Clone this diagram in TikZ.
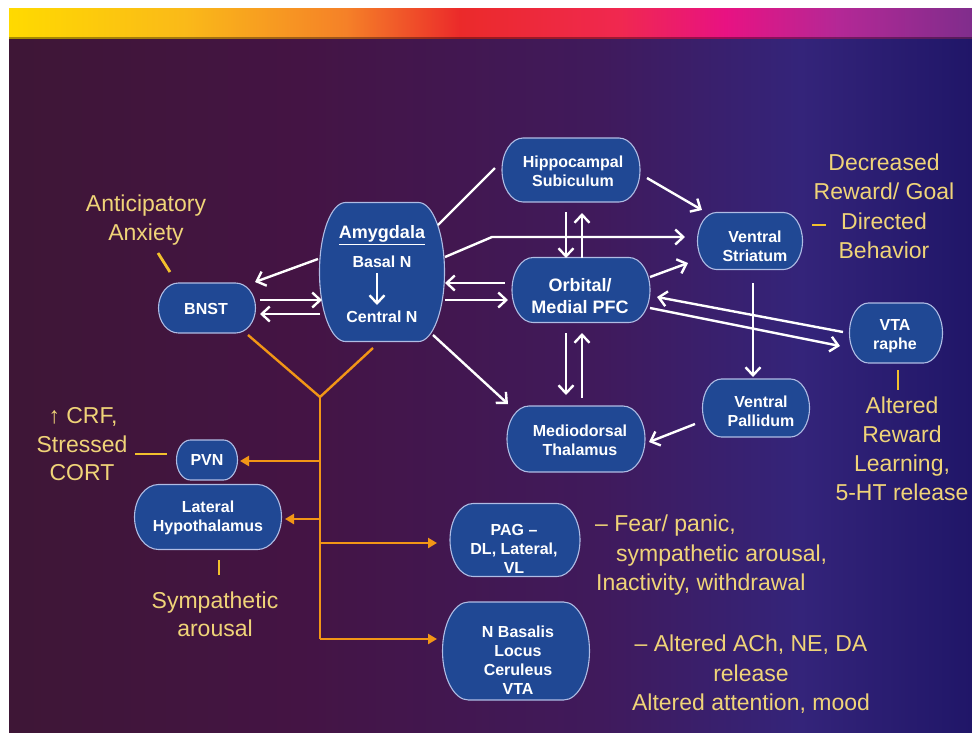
\documentclass[tikz,border=0pt]{standalone}
\usepackage{fontspec}
\setmainfont{Liberation Sans}
\usetikzlibrary{arrows.meta,calc}
\definecolor{nodefill}{RGB}{32,72,148}
\definecolor{nodeborder}{RGB}{175,188,228}
\definecolor{ylw}{RGB}{240,212,120}
\definecolor{dashcol}{RGB}{242,192,45}
\definecolor{orng}{RGB}{242,150,22}
\definecolor{bga}{RGB}{62,22,54}
\definecolor{bgb}{RGB}{68,20,68}
\definecolor{bgc}{RGB}{64,26,92}
\definecolor{bgd}{RGB}{52,36,122}
\definecolor{bge}{RGB}{32,22,104}
\definecolor{bara}{RGB}{255,218,0}
\definecolor{barb}{RGB}{250,185,25}
\definecolor{barc}{RGB}{245,128,40}
\definecolor{bard}{RGB}{235,42,42}
\definecolor{bare}{RGB}{240,40,80}
\definecolor{barf}{RGB}{232,18,130}
\definecolor{barg}{RGB}{180,40,150}
\definecolor{barh}{RGB}{128,45,140}
% outline of a box with elliptical ends: #1 node, #2 half width, #3 half height, #4 end depth
\newcommand{\pillbox}[4]{%
  \draw[boxpaint] ($(#1)+(-#2+#4,-#3)$) -- ($(#1)+(#2-#4,-#3)$)
    .. controls ($(#1)+(#2-0.448*#4,-#3)$) and ($(#1)+(#2,-0.552*#3)$) .. ($(#1)+(#2,0)$)
    .. controls ($(#1)+(#2,0.552*#3)$) and ($(#1)+(#2-0.448*#4,#3)$) .. ($(#1)+(#2-#4,#3)$)
    -- ($(#1)+(-#2+#4,#3)$)
    .. controls ($(#1)+(-#2+0.448*#4,#3)$) and ($(#1)+(-#2,0.552*#3)$) .. ($(#1)+(-#2,0)$)
    .. controls ($(#1)+(-#2,-0.552*#3)$) and ($(#1)+(-#2+0.448*#4,-#3)$) .. cycle;}
\begin{document}
\begin{tikzpicture}[x=1pt,y=-1pt,
  box/.style={inner sep=0pt},
  boxpaint/.style={draw=nodeborder,line width=1.1pt,fill=nodefill},
  btxt/.style={text=white,font=\bfseries\fontsize{16}{19}\selectfont,align=center,inner sep=0pt},
  ylab/.style={text=ylw,font=\fontsize{23}{29}\selectfont,inner sep=0pt,anchor=base},
  warr/.style={draw=white,line width=2.4pt,-{Straight Barb[length=8pt,width=15pt]}},
  wline/.style={draw=white,line width=2.4pt},
  oarr/.style={draw=orng,line width=2.4pt,-{Triangle[length=9pt,width=10pt]}},
  oline/.style={draw=orng,line width=2.4pt,line join=miter},
  ydash/.style={draw=dashcol,line width=2.8pt}]
\useasboundingbox (0,0) rectangle (972,732);
\fill[white] (0,0) rectangle (972,732);
% background
\shade[left color=bga,right color=bgb] (9,8) rectangle (301,732);
\shade[left color=bgb,right color=bgc] (300,8) rectangle (601,732);
\shade[left color=bgc,right color=bgd] (600,8) rectangle (801,732);
\shade[left color=bgd,right color=bge] (800,8) rectangle (972,732);
% top bar
\shade[left color=bara,right color=barb] (9,8) rectangle (187,38);
\shade[left color=barb,right color=barc] (186,8) rectangle (348,38);
\shade[left color=barc,right color=bard] (347,8) rectangle (460,38);
\shade[left color=bard,right color=bare] (459,8) rectangle (621,38);
\shade[left color=bare,right color=barf] (620,8) rectangle (726,38);
\shade[left color=barf,right color=barg] (725,8) rectangle (838,38);
\shade[left color=barg,right color=barh] (837,8) rectangle (972,38);
\fill[black,opacity=0.35] (9,37) rectangle (972,39);

% boxes (named nodes, outlines drawn with elliptical ends)
\node[box,minimum width=97pt,minimum height=50pt] (bnst) at (207,308) {};
\node[box,minimum width=125pt,minimum height=139pt] (amy) at (382,272) {};
\node[box,minimum width=138pt,minimum height=64pt] (hip) at (571,170) {};
\node[box,minimum width=138pt,minimum height=65pt] (pfc) at (581,290) {};
\node[box,minimum width=105pt,minimum height=57pt] (vs) at (750,241) {};
\node[box,minimum width=93pt,minimum height=60pt] (vta) at (896,333) {};
\node[box,minimum width=107pt,minimum height=58pt] (vp) at (756,408) {};
\node[box,minimum width=138pt,minimum height=66pt] (thal) at (576,439) {};
\node[box,minimum width=61pt,minimum height=40pt] (pvn) at (207,460) {};
\node[box,minimum width=147pt,minimum height=65pt] (lh) at (208,517) {};
\node[box,minimum width=130pt,minimum height=73pt] (pag) at (515,540) {};
\node[box,minimum width=147pt,minimum height=98pt] (nb) at (516,651) {};
\pillbox{bnst}{48.5}{25}{20}
\pillbox{amy}{62.5}{69.5}{26}
\pillbox{hip}{69}{32}{21}
\pillbox{pfc}{69}{32.5}{21}
\pillbox{vs}{52.5}{28.5}{19}
\pillbox{vta}{46.5}{30}{19}
\pillbox{vp}{53.5}{29}{19}
\pillbox{thal}{69}{33}{22}
\pillbox{pvn}{30.5}{20}{14}
\pillbox{lh}{73.5}{32.5}{24}
\pillbox{pag}{65}{36.5}{23}
\pillbox{nb}{73.5}{49}{26}

% box texts
\node[btxt] (bnstt) at (206,309) {BNST};
\node[btxt,font=\bfseries\fontsize{18}{22}\selectfont] (amt) at (382,235) {\underline{Amygdala}};
\node[btxt] (amb) at (382,262) {Basal N};
\node[btxt] (amc) at (382,317) {Central N};
\node[btxt] (hipt) at (573,171) {Hippocampal\\Subiculum};
\node[btxt,font=\bfseries\fontsize{18}{22}\selectfont] (pfct) at (580,296) {Orbital/\\Medial PFC};
\node[btxt] (vst) at (755,246) {Ventral\\Striatum};
\node[btxt] (vtat) at (895,336) {VTA\\raphe};
\node[btxt] (vpt) at (761,411) {Ventral\\Pallidum};
\node[btxt] (thalt) at (580,440) {Mediodorsal\\Thalamus};
\node[btxt] (pvnt) at (207,460) {PVN};
\node[btxt] (lht) at (208,518) {Lateral\\Hypothalamus};
\node[btxt] (pagt) at (514,549) {PAG –\\DL, Lateral,\\VL};
\node[btxt] (nbt) at (518,660) {N Basalis\\Locus\\Ceruleus\\VTA};

% white connectors
\draw[warr] ($(amy)+(-64,-13)$) -- ($(bnst)+(48,-26)$);
\draw[warr] ($(bnst)+(53,-8)$) -- ($(amy)+(-60,28)$);
\draw[warr] ($(amy)+(-62,42)$) -- ($(bnst)+(53,6)$);
\draw[warr] ($(amb)+(-5,11)$) -- ($(amc)+(-5,-12)$);
\draw[wline] ($(amy)+(56,-47)$) -- ($(hip)+(-76,-2)$);
\draw[warr] ($(amy)+(63,-15)$) -- ($(vs)+(-258,-4)$) -- ($(vs)+(-65,-4)$);
\draw[warr] ($(pfc)+(-76,-7)$) -- ($(amy)+(63,11)$);
\draw[warr] ($(amy)+(63,28)$) -- ($(pfc)+(-73,10)$);
\draw[warr] ($(amy)+(51,63)$) -- ($(thal)+(-68,-35)$);
\draw[warr] ($(hip)+(-5,42)$) -- ($(pfc)+(-15,-32)$);
\draw[warr] ($(pfc)+(1,-32)$) -- ($(hip)+(11,43)$);
\draw[warr] ($(hip)+(76,8)$) -- ($(vs)+(-48,-31)$);
\draw[warr] ($(pfc)+(69,-13)$) -- ($(vs)+(-62,22)$);
\draw[warr] ($(vta)+(-53,-1)$) -- ($(pfc)+(76,7)$);
\draw[warr] ($(pfc)+(69,18)$) -- ($(vta)+(-56,13)$);
\draw[warr] ($(vs)+(3,42)$) -- ($(vp)+(-3,-31)$);
\draw[warr] ($(pfc)+(-15,43)$) -- ($(thal)+(-10,-44)$);
\draw[warr] ($(thal)+(6,-41)$) -- ($(pfc)+(1,43)$);
\draw[warr] ($(vp)+(-61,16)$) -- ($(thal)+(73,3)$);

% orange connectors
\coordinate (j) at (320,397);
\coordinate (t1) at (320,461);
\coordinate (t2) at (320,519);
\coordinate (t3) at (320,543);
\coordinate (tb) at (320,639);
\draw[oline] ($(bnst)+(41,27)$) -- (j) -- ($(amy)+(-9,76)$);
\draw[oline] (j) -- (tb);
\draw[oarr] (t1) -- ($(pvn)+(33,1)$);
\draw[oarr] (t2) -- ($(lh)+(77,2)$);
\draw[oarr] (t3) -- ($(pag)+(-78,3)$);
\draw[oarr] (tb) -- ($(nb)+(-79,-12)$);

% yellow labels
\node[ylab] (ant1) at (146,211) {Anticipatory};
\node[ylab] (ant2) at (146,240) {Anxiety};
\node[ylab] (dec1) at (884,170) {Decreased};
\node[ylab] (dec2) at (884,199) {Reward/ Goal};
\node[ylab] (dec3) at (884,229) {Directed};
\node[ylab] (dec4) at (884,258) {Behavior};
\node[ylab] (alt1) at (902,413) {Altered};
\node[ylab] (alt2) at (902,442) {Reward};
\node[ylab] (alt3) at (902,471) {Learning,};
\node[ylab] (alt4) at (902,500) {5-HT release};
\node[ylab] (crf1) at (83,423) {↑ CRF,};
\node[ylab] (crf2) at (82,452) {Stressed};
\node[ylab] (crf3) at (82,480) {CORT};
\node[ylab] (sym1) at (215,608) {Sympathetic};
\node[ylab] (sym2) at (215,636) {arousal};
\node[ylab,anchor=base west] (fear1) at (595,531) {– Fear/ panic,};
\node[ylab,anchor=base west] (fear2) at (616,561) {sympathetic arousal,};
\node[ylab,anchor=base west] (fear3) at (596,590) {Inactivity, withdrawal};
\node[ylab] (ach1) at (751,651) {– Altered ACh, NE, DA};
\node[ylab] (ach2) at (751,681) {release};
\node[ylab] (ach3) at (751,710) {Altered attention, mood};

% yellow dashes
\draw[ydash] ($(ant2.base)+(12,13)$) -- ($(bnst)+(-37,-36)$);
\draw[ydash] ($(dec3.base)+(-72,-4)$) -- ($(dec3.base)+(-58,-4)$);
\draw[ydash] ($(vta)+(2,37)$) -- ($(alt1.base)+(-4,-23)$);
\draw[ydash] ($(crf2.base)+(53,2)$) -- ($(pvn)+(-40,-6)$);
\draw[ydash] ($(lh)+(11,43)$) -- ($(sym1.base)+(4,-33)$);
\end{tikzpicture}
\end{document}
